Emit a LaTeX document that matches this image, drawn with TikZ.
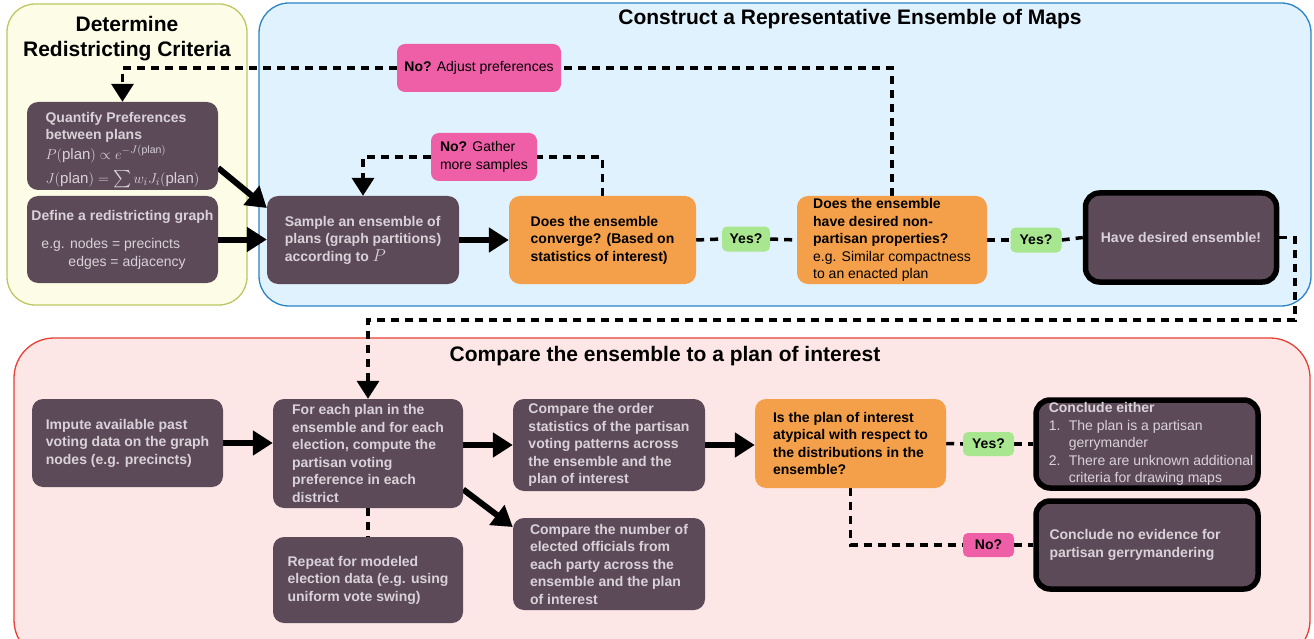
\documentclass[tikz,border=0pt]{standalone}
\usepackage{fontspec}
\setmainfont{Liberation Sans}
\usepackage{amsmath}
\usetikzlibrary{arrows.meta,calc}
\definecolor{dk}{HTML}{5D4A58}
\definecolor{lt}{HTML}{D9D2D8}
\definecolor{org}{HTML}{F4A04A}
\definecolor{grn}{HTML}{A8E68F}
\definecolor{pnk}{HTML}{EE5FA8}
\definecolor{ybg}{HTML}{FDFDE7}
\definecolor{ybd}{HTML}{BCC862}
\definecolor{bbg}{HTML}{E0F2FD}
\definecolor{bbd}{HTML}{2A84C6}
\definecolor{rbg}{HTML}{FDE7E6}
\definecolor{rbd}{HTML}{EA3F35}
\pgfdeclarelayer{bg}
\pgfdeclarelayer{lines}
\pgfsetlayers{bg,lines,main}
\tikzset{
  base/.style={rounded corners=11pt, inner xsep=4pt, inner ysep=2pt, align=left,
    font=\fontsize{14}{17.5}\selectfont\bfseries},
  dkbox/.style={base, fill=dk, text=lt},
  orbox/.style={base, fill=org, text=black},
  endbox/.style={base, fill=dk, text=lt, draw=black, line width=5.5pt, rounded corners=14pt},
  tagbox/.style={rounded corners=5pt, inner sep=2pt, align=left, text=black,
    font=\fontsize{14}{17.5}\selectfont},
  ttl/.style={font=\fontsize{21}{25}\selectfont\bfseries, text=black, align=center},
  dl/.style={line width=3.5pt, dash pattern=on 8pt off 6pt},
  dla/.style={dl, -{Triangle[length=18pt,width=22pt]}},
  sa/.style={line width=6pt, -{Triangle[length=20pt,width=24pt]}},
}
\begin{document}
\begin{tikzpicture}[x=1pt,y=-1pt]
\useasboundingbox (0,0) rectangle (1314,639);
% containers
\begin{pgfonlayer}{bg}
  \fill[white] (0,0) rectangle (1314,639);
  \draw[fill=ybg, draw=ybd, line width=1.3pt, rounded corners=28pt] (7,4) rectangle (247,305);
  \draw[fill=bbg, draw=bbd, line width=1.3pt, rounded corners=30pt] (259,3) rectangle (1311,306);
  \begin{scope}
    \clip (0,0) rectangle (1314,639);
    \draw[fill=rbg, draw=rbd, line width=1.3pt, rounded corners=40pt] (14,338) rectangle (1310,660);
  \end{scope}
\end{pgfonlayer}
% titles
\node[ttl] (t1) at (127,39) {Determine\\Redistricting Criteria};
\node[ttl] (t2) at (850,19) {Construct a Representative Ensemble of Maps};
\node[ttl] (t3) at (665,356) {Compare the ensemble to a plan of interest};
% top nodes
\node[dkbox, minimum width=191pt, minimum height=88pt, inner ysep=0pt] (quant) at (122.5,146)
  {\rule{0pt}{18pt}Quantify Preferences\\between plans\\[2pt]
   {\mdseries\fontsize{15}{17.5}\selectfont $P(\text{plan})\propto e^{-J(\text{plan})}$}\\[7pt]
   {\mdseries\fontsize{15}{17.5}\selectfont $J(\text{plan}) = \mathop{\mbox{\fontsize{18}{18}\selectfont$\sum$}} w_iJ_i(\text{plan})$}};
\node[dkbox, minimum width=191pt, minimum height=87pt] (define) at (122.5,239.5)
  {Define a redistricting graph\\[11pt]
   {\mdseries\hspace*{10pt}e.g. nodes = precincts}\\
   {\mdseries\hspace*{37pt}edges = adjacency}};
\node[dkbox, minimum width=192pt, minimum height=88pt] (sample) at (363,240)
  {Sample an ensemble of\\plans (graph partitions)\\according to {\mdseries\fontsize{16}{18}\selectfont $P$}};
\node[orbox, minimum width=187pt, minimum height=88pt] (conv) at (602.5,240)
  {Does the ensemble\\converge? (Based on\\statistics of interest)};
\node[tagbox, fill=grn, minimum width=48pt, minimum height=25pt, font=\fontsize{14}{17.5}\selectfont\bfseries] (yes1) at (746,239) {Yes?};
\node[orbox, minimum width=190pt, minimum height=88pt] (nonp) at (892,240)
  {Does the ensemble\\have desired non-\\partisan properties?\\
   {\mdseries e.g. Similar compactness}\\{\mdseries to an enacted plan}};
\node[tagbox, fill=grn, minimum width=51pt, minimum height=25pt, font=\fontsize{14}{17.5}\selectfont\bfseries] (yes2) at (1036,240) {Yes?};
\node[endbox, minimum width=191pt, minimum height=89pt, align=center] (have) at (1181,237.5)
  {Have desired ensemble!};
\node[tagbox, fill=pnk, minimum width=164pt, minimum height=48pt, rounded corners=8pt] (noadj) at (479,68)
  {\textbf{No?} Adjust preferences};
\node[tagbox, fill=pnk, minimum width=106pt, minimum height=48pt, rounded corners=8pt] (gather) at (484,157)
  {\textbf{No?} Gather\\more samples};
% bottom nodes
\node[dkbox, minimum width=191pt, minimum height=88pt] (impute) at (127.5,443)
  {Impute available past\\voting data on the graph\\nodes (e.g. precincts)};
\node[dkbox, minimum width=190pt, minimum height=109pt] (foreach) at (368,453.5)
  {For each plan in the\\ensemble and for each\\election, compute the\\partisan voting\\preference in each\\district};
\node[dkbox, minimum width=190pt, minimum height=86pt] (repeat) at (368,580)
  {Repeat for modeled\\election data (e.g. using\\uniform vote swing)};
\node[dkbox, minimum width=192pt, minimum height=92pt] (order) at (609,445)
  {Compare the order\\statistics of the partisan\\voting patterns across\\the ensemble and the\\plan of interest};
\node[dkbox, minimum width=192pt, minimum height=92pt] (number) at (609,564)
  {Compare the number of\\elected officials from\\each party across the\\ensemble and the plan\\of interest};
\node[orbox, minimum width=191pt, minimum height=89pt] (isplan) at (850.5,443.5)
  {Is the plan of interest\\atypical with respect to\\the distributions in the\\ensemble?};
\node[tagbox, fill=grn, minimum width=51pt, minimum height=24pt, font=\fontsize{14}{17.5}\selectfont\bfseries] (yes3) at (988.5,444) {Yes?};
\node[endbox, minimum width=222pt, minimum height=88pt] (concl1) at (1147,444)
  {\hspace*{8pt}Conclude either\\
   {\mdseries\hspace*{8pt}\makebox[20pt][l]{1.}The plan is a partisan}\\
   {\mdseries\hspace*{28pt}gerrymander}\\
   {\mdseries\hspace*{8pt}\makebox[20pt][l]{2.}There are unknown additional}\\
   {\mdseries\hspace*{28pt}criteria for drawing maps}};
\node[tagbox, fill=pnk, minimum width=51pt, minimum height=24pt, font=\fontsize{14}{17.5}\selectfont\bfseries] (no2) at (988.5,545) {No?};
\node[endbox, minimum width=222pt, minimum height=88pt] (concl2) at (1147,545)
  {Conclude no evidence for\\partisan gerrymandering\hspace*{30pt}};
\coordinate (c1) at (1295,320);
% connectors
\begin{pgfonlayer}{lines}
  \draw[dl] (nonp.north) |- (noadj.east);
  \draw[dla] (noadj.west) -| (quant.north);
  \draw[dl] (conv.north) |- (gather.east);
  \draw[dla] (gather.west) -| (sample.north);
  \draw[dl] (conv.east) -- (yes1.west);
  \draw[dl] (yes1.east) -- (nonp.west);
  \draw[dl] (nonp.east) -- (yes2.west);
  \draw[dl] (yes2.east) -- (have.west);
  \draw[dla] (have.east) -| (c1) -| (foreach.north);
  \draw[sa] ([yshift=-22pt]quant.east) -- ([yshift=32pt]sample.west);
  \draw[sa] (define.east) -- (define.east -| sample.west);
  \draw[sa] (sample.east) -- (conv.west);
  \draw[sa] (impute.east) -- (impute.east -| foreach.west);
  \draw[sa] ([yshift=8.5pt]foreach.east) -- (order.west);
  \draw[sa] ([yshift=-36pt]foreach.east) -- ([yshift=37pt]number.west);
  \draw[sa] (order.east) -- (order.east -| isplan.west);
  \draw[dl] (foreach.south) -- (repeat.north);
  \draw[dl] (isplan.east) -- (yes3.west);
  \draw[dl] (yes3.east) -- (concl1.west);
  \draw[dl] (isplan.south) |- (no2.west);
  \draw[dl] (no2.east) -- (concl2.west);
\end{pgfonlayer}
\end{tikzpicture}
\end{document}
